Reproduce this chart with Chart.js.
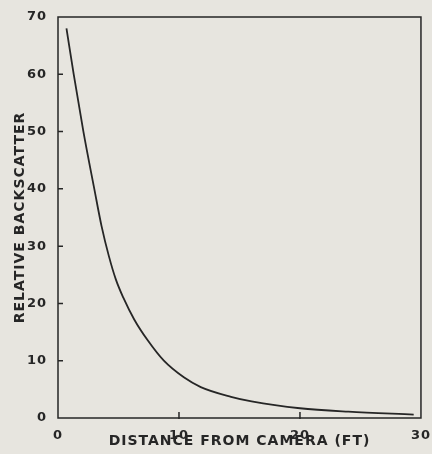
<!DOCTYPE html>
<html>
<head>
<meta charset="utf-8">
<script src="https://cdn.jsdelivr.net/npm/chart.js@4.4.1/dist/chart.umd.min.js"></script>
<style>
  html, body { margin: 0; padding: 0; background: #e7e5df; }
  #wrap { width: 432px; height: 454px; }
</style>
</head>
<body>
<div id="wrap"><canvas id="backscatterChart"></canvas></div>
<script>
// distance from camera (ft) and relative backscatter
const distances = [0.7, 1.3, 2.1, 3.0, 3.6, 4.2, 4.78, 5.4, 6.3, 7.4, 8.75, 10.4, 11.8, 14.3, 16, 20, 24, 29.4];
const backscatter = [68, 60, 50, 40, 33.5, 28.3, 24.2, 21, 17.2, 13.6, 10, 7.1, 5.4, 3.7, 2.9, 1.7, 1.1, 0.6];
const xTicks = [0, 10, 20, 30];
const yTicks = [0, 10, 20, 30, 40, 50, 60, 70];

const ink = "#262626";

// frame round the plot plus small inward tick marks
const framePlugin = {
  id: "frame",
  beforeDraw(chart) {
    chart.ctx.letterSpacing = "1px";
  },
  afterDraw(chart) {
    const { ctx, chartArea: a, scales } = chart;
    ctx.save();
    ctx.strokeStyle = ink;
    ctx.lineWidth = 1.5;
    ctx.strokeRect(a.left, a.top, a.right - a.left, a.bottom - a.top);
    ctx.beginPath();
    yTicks.slice(1, -1).forEach((v) => {
      const y = scales.y.getPixelForValue(v);
      ctx.moveTo(a.left, y);
      ctx.lineTo(a.left + 5, y);
    });
    xTicks.slice(1, -1).forEach((v) => {
      const x = scales.x.getPixelForValue(v);
      ctx.moveTo(x, a.bottom + 1);
      ctx.lineTo(x, a.bottom - 6);
    });
    ctx.stroke();
    ctx.restore();
  },
};

new Chart(document.getElementById("backscatterChart"), {
  type: "scatter",
  data: {
    datasets: [
      {
        data: distances.map((d, i) => ({ x: d, y: backscatter[i] })),
        showLine: true,
        borderColor: ink,
        borderWidth: 1.8,
        pointRadius: 0,
        cubicInterpolationMode: "monotone",
      },
    ],
  },
  options: {
    responsive: true,
    maintainAspectRatio: false,
    animation: false,
    layout: { padding: { top: 17, right: 10, left: 0, bottom: 0 } },
    plugins: { legend: { display: false }, tooltip: { enabled: false } },
    scales: {
      x: {
        type: "linear",
        min: 0,
        max: 30,
        afterBuildTicks: (s) => { s.ticks = xTicks.map((v) => ({ value: v })); },
        afterFit: (s) => { s.height = 36; },
        grid: { display: false },
        border: { display: false },
        ticks: {
          color: ink,
          padding: 2,
          maxRotation: 0,
          font: { family: "DejaVu Sans", size: 13, weight: "bold" },
        },
        title: {
          display: true,
          text: "DISTANCE FROM CAMERA (FT)",
          color: ink,
          padding: { top: 0, bottom: 4 },
          font: { family: "DejaVu Sans", size: 14, weight: "bold" },
        },
      },
      y: {
        min: 0,
        max: 70,
        afterBuildTicks: (s) => { s.ticks = yTicks.map((v) => ({ value: v })); },
        afterFit: (s) => { s.width = 58; },
        grid: { display: false },
        border: { display: false },
        ticks: {
          color: ink,
          padding: 3,
          font: { family: "DejaVu Sans", size: 13, weight: "bold" },
        },
        title: {
          display: true,
          text: "RELATIVE BACKSCATTER",
          color: ink,
          padding: { top: 12, bottom: 0 },
          font: { family: "DejaVu Sans", size: 14, weight: "bold" },
        },
      },
    },
  },
  plugins: [framePlugin],
});
</script>
</body>
</html>
